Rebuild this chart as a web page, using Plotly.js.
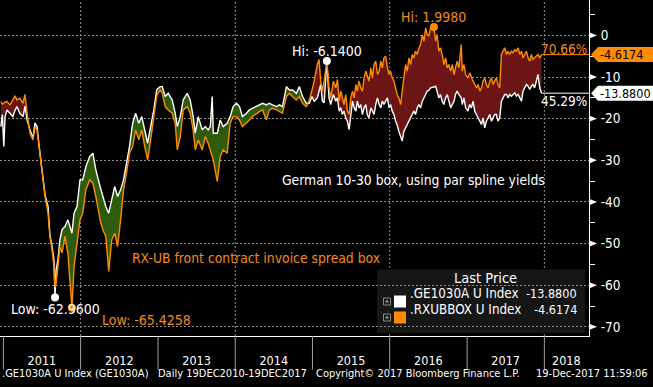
<!DOCTYPE html>
<html><head><meta charset="utf-8">
<script src="https://cdn.plot.ly/plotly-3.0.1.min.js"></script>
<style>html,body{margin:0;padding:0;background:#000;}#chart{width:653px;height:387px;}</style>
</head><body><div id="chart"></div>
<script>
// ---- data ----
const dates = [
'2010-12-20','2010-12-27','2011-01-03','2011-01-09','2011-01-18','2011-02-01','2011-02-15','2011-02-25','2011-03-06','2011-03-20',
'2011-04-04','2011-04-13','2011-04-23','2011-05-07','2011-05-21','2011-05-30','2011-06-09','2011-06-23','2011-07-07','2011-07-17',
'2011-07-31','2011-08-09','2011-08-19','2011-08-28','2011-09-02','2011-09-07','2011-09-16','2011-09-25','2011-10-05','2011-10-19',
'2011-11-02','2011-11-12','2011-11-21','2011-12-01','2011-12-15','2011-12-29','2012-01-11','2012-01-26','2012-02-13','2012-02-28',
'2012-03-13','2012-04-02','2012-04-15','2012-04-29','2012-05-13','2012-05-27','2012-06-10','2012-06-24','2012-07-08','2012-07-22',
'2012-08-05','2012-08-19','2012-09-03','2012-09-17','2012-10-02','2012-10-16','2012-10-30','2012-11-13','2012-11-27','2012-12-12',
'2012-12-26','2013-01-11','2013-01-21','2013-02-04','2013-02-18','2013-03-09','2013-03-23','2013-04-02','2013-04-16','2013-04-30',
'2013-05-19','2013-06-02','2013-06-16','2013-06-26','2013-07-10','2013-07-29','2013-08-12','2013-08-26','2013-09-05','2013-09-14',
'2013-09-19','2013-10-08','2013-10-22','2013-11-05','2013-11-24','2013-12-08','2013-12-22','2014-01-07','2014-01-21','2014-02-04',
'2014-02-23','2014-03-09','2014-03-23','2014-04-11','2014-04-25','2014-05-10','2014-05-28','2014-06-11','2014-06-26','2014-07-15',
'2014-07-29','2014-08-12','2014-08-31','2014-09-14','2014-09-28','2014-10-17','2014-10-31','2014-11-15','2014-12-03','2014-12-17',
'2014-12-30',
'2015-01-09','2015-01-24','2015-02-01','2015-02-09','2015-02-17','2015-02-25','2015-03-10','2015-03-20','2015-03-28','2015-04-10',
'2015-04-21','2015-04-29','2015-05-07','2015-05-15','2015-05-22','2015-05-30','2015-06-07','2015-06-15','2015-06-23','2015-07-01',
'2015-07-09','2015-07-17','2015-07-25','2015-08-01','2015-08-09','2015-08-17','2015-08-25','2015-09-02','2015-09-10','2015-09-17',
'2015-09-25','2015-10-04','2015-10-11','2015-10-19','2015-10-27','2015-11-04','2015-11-12','2015-11-20','2015-11-27','2015-12-05',
'2015-12-13','2015-12-21','2015-12-29','2016-01-05','2016-01-13','2016-01-21','2016-01-29','2016-02-05','2016-02-13','2016-02-22',
'2016-02-29','2016-03-08','2016-03-16','2016-03-24','2016-04-01','2016-04-09','2016-04-16','2016-04-24','2016-05-02','2016-05-10',
'2016-05-18','2016-05-26','2016-06-03','2016-06-11','2016-06-19','2016-06-26','2016-07-04','2016-07-12','2016-07-28','2016-08-05',
'2016-08-12','2016-08-20','2016-08-28','2016-09-05','2016-09-13','2016-09-21','2016-09-29','2016-10-07','2016-10-15','2016-10-23',
'2016-10-31','2016-11-07','2016-11-15','2016-11-23','2016-12-04','2016-12-09','2016-12-17','2016-12-25','2017-01-05','2017-01-13',
'2017-01-21','2017-01-29','2017-02-06','2017-02-14','2017-02-22','2017-03-02','2017-03-10','2017-03-17','2017-03-25','2017-04-02',
'2017-04-10','2017-04-18','2017-04-26','2017-05-03','2017-05-11','2017-05-19','2017-05-27','2017-06-04','2017-06-12','2017-06-20',
'2017-06-28','2017-07-06','2017-07-13','2017-07-21','2017-07-29','2017-08-06','2017-08-14','2017-08-22','2017-08-30','2017-09-07',
'2017-09-15','2017-09-22','2017-09-30','2017-10-08','2017-10-16','2017-10-24','2017-11-01','2017-11-08','2017-11-16','2017-11-24',
'2017-12-02','2017-12-10','2017-12-19'
];
// .GE1030A U Index (white): German 10-30 box, using par spline yields
const ge1030a = [
-21.9,-19.0,-26.7,-19.5,-17.9,-18.7,-19.5,-18.0,-17.1,-18.7,
-19.5,-17.0,-20.3,-22.7,-24.7,-21.0,-21.9,-28.3,-34.2,-38.3,
-41.1,-48.0,-50.7,-53.9,-62.96,-56.3,-53.9,-49.1,-46.7,-45.9,
-44.3,-45.9,-47.5,-42.7,-41.1,-34.7,-34.7,-31.5,-29.1,-28.3,
-32.3,-36.3,-38.7,-41.1,-42.7,-39.5,-36.3,-38.7,-37.1,-34.7,
-30.7,-26.7,-21.1,-18.7,-21.1,-19.5,-22.7,-25.9,-21.9,-17.9,
-13.0,-12.3,-12.3,-14.7,-13.9,-15.5,-18.7,-21.9,-19.5,-15.5,
-13.9,-15.5,-19.5,-23.5,-19.5,-22.7,-21.9,-22.7,-21.9,-14.7,
-23.5,-23.5,-20.3,-21.9,-21.1,-19.5,-17.1,-16.3,-17.1,-19.5,
-18.7,-17.9,-17.5,-17.1,-16.7,-16.3,-16.7,-16.3,-16.7,-17.1,
-16.7,-17.1,-12.3,-13.1,-13.1,-13.9,-12.3,-14.7,-16.3,-16.3,
-14.7,
-15.8,-15.0,-13.4,-11.8,-15.8,-16.2,-6.14,-15.0,-16.6,-14.2,
-15.8,-15.0,-18.2,-17.4,-19.0,-18.2,-19.8,-20.6,-22.6,-19.0,
-15.8,-17.4,-18.2,-15.8,-17.4,-16.6,-19.0,-17.4,-16.6,-19.0,
-19.8,-17.4,-18.2,-19.0,-16.6,-15.0,-16.6,-17.4,-15.8,-16.6,
-15.8,-15.0,-17.4,-16.6,-18.2,-19.0,-20.6,-21.4,-23.0,-24.6,
-25.4,-23.0,-22.2,-21.4,-20.6,-19.8,-19.0,-18.2,-19.0,-17.4,
-16.6,-17.4,-15.8,-15.0,-14.2,-13.4,-13.2,-12.6,-12.4,-12.2,
-13.4,-15.0,-14.2,-15.8,-16.6,-15.0,-14.2,-15.8,-17.4,-16.6,
-15.8,-14.2,-13.4,-14.2,-15.0,-16.6,-15.0,-17.4,-18.2,-16.6,
-17.4,-15.8,-18.2,-19.0,-19.8,-20.6,-21.4,-19.8,-22.2,-20.6,
-19.8,-19.0,-20.6,-19.8,-19.0,-19.0,-20.6,-19.8,-15.8,-15.0,
-14.2,-14.2,-15.0,-14.2,-14.6,-14.2,-13.8,-14.6,-14.2,-15.0,
-15.8,-13.4,-12.6,-11.8,-12.2,-13.0,-12.2,-11.8,-12.6,-11.0,
-9.4,-12.6,-13.88
];
// .RXUBBOX U Index (orange): RX-UB front contract invoice spread box
const rxubbox = [
-15.9,-16.5,-16.3,-16.0,-15.9,-16.7,-15.5,-14.5,-15.5,-15.1,
-16.3,-14.2,-18.7,-23.5,-25.1,-22.0,-22.7,-29.1,-34.7,-38.7,
-42.7,-48.3,-51.5,-55.5,-60.5,-59.5,-55.5,-50.7,-52.3,-48.3,
-52.3,-58.7,-65.4258,-55.5,-49.1,-44.3,-42.7,-37.1,-34.7,-35.5,
-38.7,-44.3,-46.7,-48.3,-56.7,-49.1,-47.5,-50.7,-44.3,-37.1,
-33.1,-28.3,-26.7,-22.7,-25.1,-22.7,-26.7,-29.9,-25.1,-19.5,
-14.5,-13.1,-13.9,-17.1,-17.9,-18.7,-21.1,-27.5,-24.3,-17.9,
-17.1,-18.7,-22.7,-27.5,-25.1,-27.5,-24.3,-25.9,-27.5,-29.0,
-29.9,-35.1,-29.1,-27.5,-28.3,-21.1,-19.5,-19.5,-20.3,-21.9,
-21.1,-20.3,-19.5,-18.7,-18.3,-17.9,-20.3,-17.9,-17.5,-17.9,
-18.3,-18.7,-14.7,-13.9,-14.7,-15.5,-14.7,-16.3,-17.1,-15.5,
-13.1,
-11.0,-7.0,-5.8,-11.0,-13.4,-11.0,-6.2,-12.6,-15.0,-11.0,
-12.6,-10.6,-15.8,-13.4,-15.0,-16.6,-14.2,-18.2,-19.0,-15.0,
-13.4,-15.0,-11.8,-13.4,-11.0,-12.6,-13.4,-10.2,-8.6,-9.8,
-11.0,-7.8,-10.2,-7.0,-6.2,-9.4,-8.6,-6.2,-7.8,-5.4,
-5.0,-7.8,-9.4,-8.6,-10.2,-11.0,-12.6,-14.2,-15.0,-16.6,
-13.4,-9.4,-7.0,-8.6,-5.4,-7.0,-4.6,-5.4,-3.8,-4.6,
-3.0,-2.2,0.2,-1.4,1.8,0.2,-0.2,1.8,1.998,-1.4,
0.2,-3.8,-3.0,-4.6,-7.0,-5.4,-7.8,-7.0,-8.6,-7.0,
-9.4,-7.8,-6.2,-7.8,-2.2,-8.6,-7.0,-9.4,-10.2,-9.0,
-10.2,-11.0,-11.8,-12.6,-11.8,-13.4,-12.6,-11.0,-10.2,-11.8,
-12.6,-11.0,-10.2,-11.8,-11.0,-10.2,-11.8,-12.6,-4.6,-3.8,
-3.0,-4.6,-3.8,-4.6,-3.8,-4.2,-3.4,-3.8,-3.0,-4.6,
-3.8,-5.4,-4.6,-3.8,-5.4,-6.2,-4.6,-5.8,-5.4,-5.0,
-4.6,-5.4,-4.6174
];
const seriesNames = ['.GE1030A U Index', '.RXUBBOX U Index'];
const pctLabels = ['45.29%', '70.66%'];
const yearTickVals = ['2011-07-02','2012-07-02','2013-07-02','2014-07-02','2015-07-02','2016-07-02','2017-07-02','2018-04-15'];
const yearTickText = ['2011','2012','2013','2014','2015','2016','2017','2018'];
const yearBounds = ['2011-01-01','2012-01-01','2013-01-01','2014-01-01','2015-01-01','2016-01-01','2017-01-01','2018-01-01'];
const gridYears = ['2012-01-01','2014-01-01','2016-01-01','2018-01-01'];
const yTickVals = [0,-10,-20,-30,-40,-50,-60,-70];
const yTickText = ['0','-10','-20','-30','-40','-50','-60','-70'];
const noteWhite = 'German 10-30 box, using par spline yields';
const noteOrange = 'RX-UB front contract invoice spread box';
const legendTitle = 'Last Price';
const footer = ['.GE1030A U Index (GE1030A)', 'Daily 19DEC2010-19DEC2017', 'Copyright\u00A9 2017 Bloomberg Finance L.P.', '19-Dec-2017 11:59:06'];

if (dates.length !== ge1030a.length || dates.length !== rxubbox.length)
  throw new Error('length mismatch ' + dates.length + ' ' + ge1030a.length + ' ' + rxubbox.length);

// ---- styling ----
const FONT = '"DejaVu Sans Condensed", "DejaVu Sans", sans-serif';
const ORANGE = '#ff8c00', ORANGE_TXT = '#f08a1c', WHITE = '#ffffff';
const GREEN = '#2e5c0c', RED = '#6b1515', GRID = '#8c8c8c';
const xRange = ['2010-12-16', '2018-07-31'];
const yRange = [-72.2, 8.5];
const PW = 589, PH = 336;             // plot area size in px
const px = v => v / PW, py = v => (PH - v) / PH;
const unitsPerPx = (yRange[1] - yRange[0]) / PH;

const W = ge1030a, O = rxubbox;
const base = W.map((w, i) => Math.min(w, O[i]));
const argmax = a => a.reduce((b, v, i) => v > a[b] ? i : b, 0);
const argmin = a => a.reduce((b, v, i) => v < a[b] ? i : b, 0);
const iWH = argmax(W), iWL = argmin(W), iOH = argmax(O), iOL = argmin(O);
const last = dates.length - 1;
const fmt = v => v.toFixed(4);

const traces = [
  {x: dates, y: base, mode: 'lines', line: {width: 0}, hoverinfo: 'skip'},
  {x: dates, y: W, mode: 'none', fill: 'tonexty', fillcolor: GREEN, hoverinfo: 'skip'},
  {x: dates, y: base, mode: 'lines', line: {width: 0}, hoverinfo: 'skip'},
  {x: dates, y: O, mode: 'none', fill: 'tonexty', fillcolor: RED, hoverinfo: 'skip'},
  {x: dates, y: W, mode: 'lines', name: seriesNames[0], line: {color: WHITE, width: 1.4}},
  {x: dates, y: O, mode: 'lines', name: seriesNames[1], line: {color: ORANGE, width: 1.4}},
  {x: [dates[iWH], dates[iWL]], y: [W[iWH], W[iWL]], mode: 'markers', marker: {color: WHITE, size: 8}, cliponaxis: false},
  {x: [dates[iOH], dates[iOL]], y: [O[iOH], O[iOL]], mode: 'markers', marker: {color: ORANGE, size: 8}, cliponaxis: false}
];

const shapes = [];
gridYears.forEach(d => shapes.push({type: 'line', xref: 'x', yref: 'paper', x0: d, x1: d, y0: 0, y1: 1,
  line: {color: GRID, width: 1, dash: '2px,2px'}, layer: 'below'}));
yearBounds.forEach(d => shapes.push({type: 'line', xref: 'x', yref: 'paper', x0: d, x1: d, y0: 0, y1: -0.1,
  line: {color: '#a0a0a0', width: 1}}));
// triangular tick markers on the right axis
const th = 3.2 * unitsPerPx;
yTickVals.forEach(v => shapes.push({type: 'path', xref: 'paper', yref: 'y', fillcolor: WHITE, line: {width: 0},
  path: `M ${px(589)},${v + th} L ${px(597)},${v} L ${px(589)},${v - th} Z`}));
// last value lines + value boxes
[[W[last], WHITE], [O[last], ORANGE]].forEach(([v, c]) => {
  shapes.push({type: 'line', xref: 'x', yref: 'y', x0: dates[last], x1: xRange[1], y0: v, y1: v, line: {color: c, width: 1}});
  const h = 7.5 * unitsPerPx;
  shapes.push({type: 'path', xref: 'paper', yref: 'y', fillcolor: c, line: {width: 0},
    path: `M ${px(591)},${v} L ${px(598)},${v + h} L ${px(653)},${v + h} L ${px(653)},${v - h} L ${px(598)},${v - h} Z`});
});
// legend box
shapes.push({type: 'rect', xref: 'paper', yref: 'paper', x0: px(377), x1: px(585), y0: py(333), y1: py(269.5),
  fillcolor: '#161616', line: {width: 0}, layer: 'below'});
shapes.push({type: 'rect', xref: 'paper', yref: 'paper', x0: px(394), x1: px(406), y0: py(307.5), y1: py(295.5), fillcolor: WHITE, line: {width: 0}});
shapes.push({type: 'rect', xref: 'paper', yref: 'paper', x0: px(394), x1: px(406), y0: py(323.5), y1: py(311.5), fillcolor: ORANGE, line: {width: 0}});
[301.5, 317.5].forEach(y => {
  shapes.push({type: 'rect', xref: 'paper', yref: 'paper', x0: px(383.5), x1: px(390.5), y0: py(y + 3.5), y1: py(y - 3.5),
    line: {color: '#888', width: 1}});
  shapes.push({type: 'line', xref: 'paper', yref: 'paper', x0: px(385), x1: px(389), y0: py(y), y1: py(y), line: {color: '#888', width: 1}});
  shapes.push({type: 'line', xref: 'paper', yref: 'paper', x0: px(387), x1: px(387), y0: py(y + 2), y1: py(y - 2), line: {color: '#888', width: 1}});
});

const ann = [];
const A = (o, size, color) => ann.push(Object.assign({showarrow: false, borderpad: 0, font: {family: FONT, size: size || 13.5, color: color || WHITE}}, o));
A({x: dates[iWH], y: W[iWH], xref: 'x', yref: 'y', text: 'Hi: ' + fmt(W[iWH]), yshift: 10, xanchor: 'center'}, 14);
A({x: dates[iOH], y: O[iOH], xref: 'x', yref: 'y', text: 'Hi: ' + fmt(O[iOH]), yshift: 10, xanchor: 'center'}, 14, ORANGE_TXT);
A({x: dates[iWL], y: W[iWL], xref: 'x', yref: 'y', text: 'Low: ' + fmt(W[iWL]), yshift: -11, xanchor: 'center'}, 14);
A({x: dates[iOL], y: O[iOL], xref: 'x', yref: 'y', text: 'Low: ' + fmt(O[iOL]), yshift: -12, xshift: 29, xanchor: 'left'}, 14, ORANGE_TXT);
A({x: px(281), y: py(180), xref: 'paper', yref: 'paper', text: noteWhite, xanchor: 'left'}, 13.8);
A({x: px(131), y: py(267), xref: 'paper', yref: 'paper', text: noteOrange, xanchor: 'left'}, 13.8, ORANGE_TXT);
// last value labels
A({x: px(599), y: W[last], xref: 'paper', yref: 'y', text: fmt(W[last]), xanchor: 'left'}, 12.5, '#000');
A({x: px(599), y: O[last], xref: 'paper', yref: 'y', text: fmt(O[last]), xanchor: 'left'}, 12.5, '#000');
A({x: px(588), y: W[last], xref: 'paper', yref: 'y', text: pctLabels[0], xanchor: 'right', yshift: -8}, 13.5);
A({x: px(588), y: O[last], xref: 'paper', yref: 'y', text: pctLabels[1], xanchor: 'right', yshift: 6}, 13.5, ORANGE_TXT);
// legend texts
A({x: px(485), y: py(287), xref: 'paper', yref: 'paper', text: legendTitle, xanchor: 'center'}, 14.5);
A({x: px(409), y: py(301.5), xref: 'paper', yref: 'paper', text: seriesNames[0], xanchor: 'left'}, 13.3);
A({x: px(409), y: py(317.5), xref: 'paper', yref: 'paper', text: seriesNames[1], xanchor: 'left'}, 13.3);
A({x: px(578), y: py(301.5), xref: 'paper', yref: 'paper', text: fmt(W[last]), xanchor: 'right'}, 12.5);
A({x: px(578), y: py(317.5), xref: 'paper', yref: 'paper', text: fmt(O[last]), xanchor: 'right'}, 12.5);
// footer
[[1, footer[0]], [157, footer[1]], [315, footer[2]], [535, footer[3]]].forEach(([x, t]) =>
  A({x: px(x), y: py(380.5), xref: 'paper', yref: 'paper', text: t, xanchor: 'left'}, 11));

const layout = {
  width: 653, height: 387,
  margin: {l: 0, r: 64, t: 0, b: 51, pad: 0},
  paper_bgcolor: '#000', plot_bgcolor: '#000',
  showlegend: false,
  font: {family: FONT, color: WHITE, size: 13},
  xaxis: {type: 'date', range: xRange, showgrid: false, zeroline: false, showline: true, linecolor: WHITE, linewidth: 1,
    tickmode: 'array', tickvals: yearTickVals, ticktext: yearTickText, ticks: '', ticklabelstandoff: 13,
    tickfont: {family: FONT, size: 12.5, color: WHITE}, fixedrange: true},
  yaxis: {side: 'right', range: yRange, tickmode: 'array', tickvals: yTickVals, ticktext: yTickText,
    showgrid: true, gridcolor: GRID, griddash: '2px,2px', gridwidth: 1, zeroline: false,
    showline: true, linecolor: WHITE, linewidth: 1, ticks: 'outside', ticklen: 8, tickwidth: 1, tickcolor: 'rgba(0,0,0,0)',
    tickfont: {family: FONT, size: 13.5, color: WHITE}, fixedrange: true,
    minor: {dtick: 5, tick0: 0, ticks: 'outside', ticklen: 5, tickwidth: 1, tickcolor: WHITE, showgrid: false}},
  shapes: shapes,
  annotations: ann
};
Plotly.newPlot('chart', traces, layout, {staticPlot: true, displayModeBar: false});
</script></body></html>
